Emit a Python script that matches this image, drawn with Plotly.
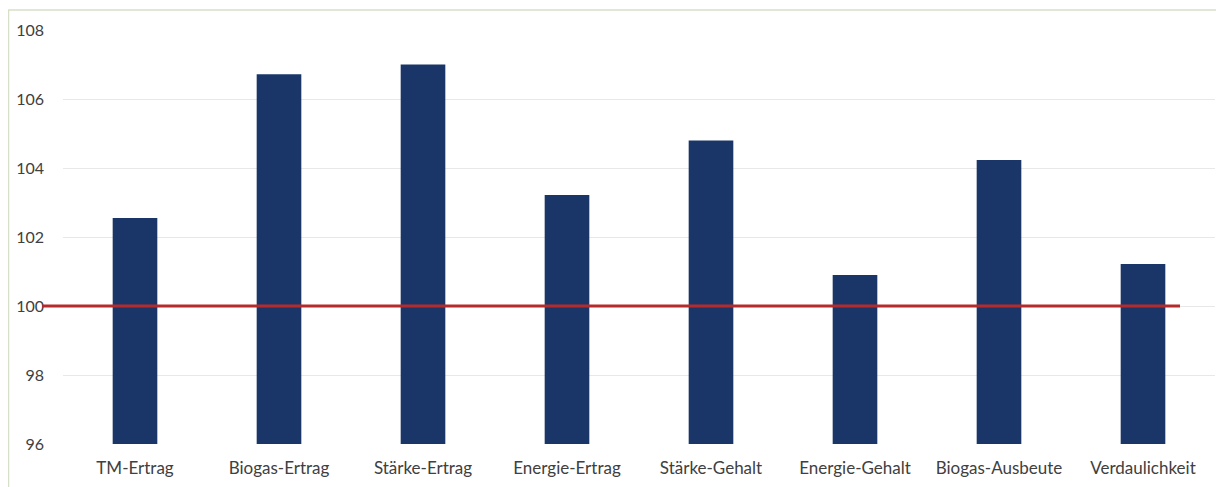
import plotly.graph_objects as go

categories = ["TM-Ertrag", "Biogas-Ertrag", "Stärke-Ertrag", "Energie-Ertrag",
              "Stärke-Gehalt", "Energie-Gehalt", "Biogas-Ausbeute", "Verdaulichkeit"]
values = [102.55, 106.72, 107.0, 103.22, 104.8, 100.9, 104.23, 101.22]
baseline = 100
y_range = [96, 108]
y_ticks = [96, 98, 100, 102, 104, 106, 108]

# page body has an 8px margin; figure sized/placed to compensate
OFF = 8
W, H = 1224 - OFF, 487 - OFF
L, R, T, B = 63 - OFF, 9, 30 - OFF, 43
pw, ph = W - L - R, H - T - B

fig = go.Figure()
fig.add_trace(go.Bar(
    x=categories, y=[v - y_range[0] for v in values], base=y_range[0],
    marker=dict(color="#1a3668", line=dict(width=0)),
    width=0.31, hoverinfo="skip",
))

fig.add_shape(type="line", xref="paper", yref="y",
              x0=(42 - OFF - L) / pw, x1=(1180 - OFF - L) / pw, y0=baseline, y1=baseline,
              line=dict(color="#b52a2a", width=3), layer="above")
# outer frame
fig.add_shape(type="rect", xref="paper", yref="paper",
              x0=(0.5 - L) / pw, x1=(1220 - OFF - L) / pw,
              y0=-0.3, y1=(H - B - (10 - OFF)) / ph,
              line=dict(color="#d6dfc8", width=1.5), layer="below")

fig.update_layout(
    width=W, height=H,
    margin=dict(l=L, r=R, t=T, b=B),
    paper_bgcolor="white", plot_bgcolor="white",
    showlegend=False, bargap=0.69,
    font=dict(family="Lato, Open Sans, sans-serif", size=17, color="#404040"),
    xaxis=dict(showgrid=False, showline=False, ticks="", tickfont=dict(size=17),
               range=[-0.5, len(categories) - 0.5], ticklabelstandoff=12),
    yaxis=dict(range=y_range, tickvals=y_ticks, showgrid=True, gridcolor="#e8e8e8",
               gridwidth=1, zeroline=False, showline=False, ticks="",
               tickfont=dict(size=16), ticklabelstandoff=18),
)

fig.write_html("out.html")
